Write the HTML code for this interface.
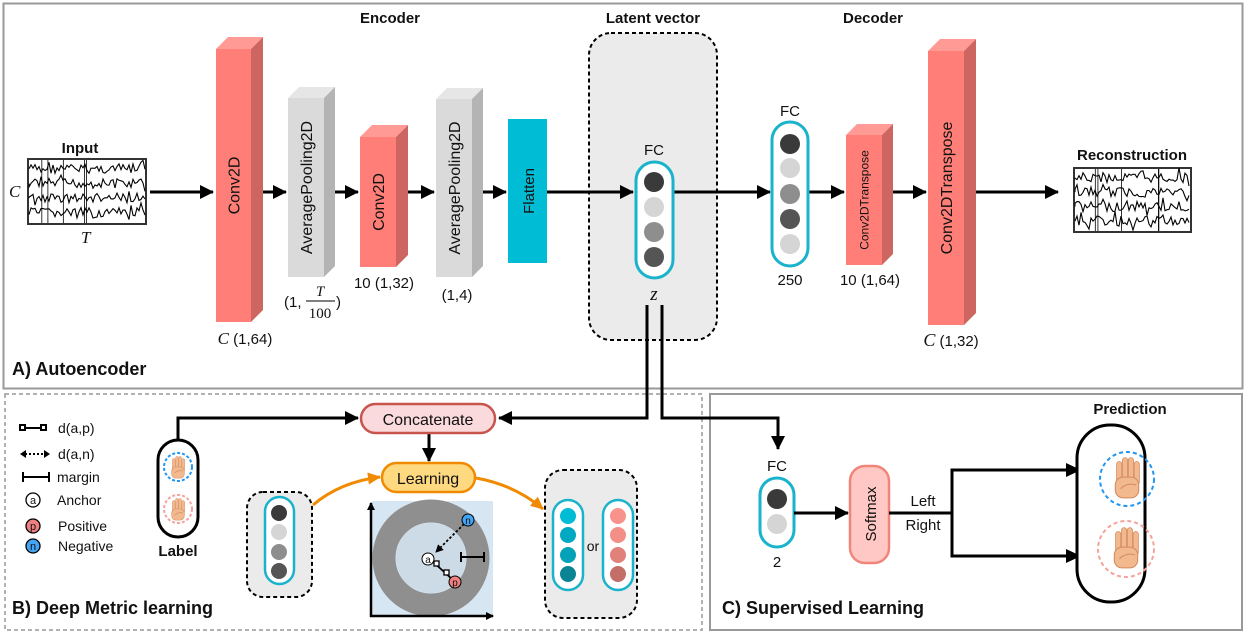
<!DOCTYPE html>
<html><head><meta charset="utf-8"><style>
html,body{margin:0;padding:0;background:#fff}
svg{display:block}
text{font-family:"Liberation Sans",sans-serif;fill:#111}
.b{font-weight:bold}
.s{font-family:"Liberation Serif",serif;font-style:italic}
</style></head><body>
<svg id="s" width="1246" height="633" viewBox="0 0 1246 633" xmlns="http://www.w3.org/2000/svg">
<defs>
<marker id="ah" markerWidth="8" markerHeight="8" refX="7" refY="4" orient="auto" markerUnits="userSpaceOnUse"><path d="M0,0 L8,4 L0,8 z" fill="#000"/></marker>
<marker id="ab" markerWidth="14" markerHeight="14" refX="13" refY="7" orient="auto" markerUnits="userSpaceOnUse"><path d="M0,0 L14,7 L0,14 z" fill="#000"/></marker>
<marker id="ao" markerWidth="14" markerHeight="14" refX="12" refY="7" orient="auto" markerUnits="userSpaceOnUse"><path d="M0,1 L13,7 L0,13 z" fill="#f08a00"/></marker>
</defs>
<rect x="3.5" y="3.5" width="1239" height="385" fill="none" stroke="#999" stroke-width="2"/>
<rect x="5" y="394" width="697" height="236" fill="none" stroke="#999" stroke-width="1.5" stroke-dasharray="4,3"/>
<rect x="710" y="394" width="532" height="236" fill="none" stroke="#999" stroke-width="2"/>

<text x="390" y="23" class="b" font-size="15" text-anchor="middle">Encoder</text>
<text x="653" y="23" class="b" font-size="15" text-anchor="middle">Latent vector</text>
<text x="873" y="23" class="b" font-size="15" text-anchor="middle">Decoder</text>
<text x="12" y="375" class="b" font-size="18">A) Autoencoder</text>
<text x="12" y="614" class="b" font-size="18">B) Deep Metric learning</text>
<text x="722" y="614" class="b" font-size="18">C) Supervised Learning</text>

<rect x="589" y="33" width="128" height="307" rx="22" fill="#ebebeb" stroke="#000" stroke-width="2" stroke-dasharray="4,3"/>

<text x="80" y="153" class="b" font-size="15" text-anchor="middle">Input</text>
<rect x="28" y="159" width="118" height="65" fill="#fff" stroke="#333" stroke-width="2"/>
<g id="w1"></g>
<text x="9" y="197" class="s" font-size="17">C</text>
<text x="81" y="243" class="s" font-size="17">T</text>
<rect x="1074" y="168" width="117" height="64" fill="#fff" stroke="#333" stroke-width="2"/>
<g id="w2"></g>
<text x="1132" y="160" class="b" font-size="15" text-anchor="middle">Reconstruction</text>

<g stroke="#000" stroke-width="3" fill="none">
<line x1="150" y1="192" x2="213" y2="192" marker-end="url(#ab)"/>
<line x1="263" y1="192" x2="286" y2="192" marker-end="url(#ab)"/>
<line x1="335" y1="192" x2="358" y2="192" marker-end="url(#ab)"/>
<line x1="408" y1="192" x2="434" y2="192" marker-end="url(#ab)"/>
<line x1="483" y1="192" x2="506" y2="192" marker-end="url(#ab)"/>
<line x1="547" y1="192" x2="633" y2="192" marker-end="url(#ab)"/>
<line x1="673" y1="192" x2="770" y2="192" marker-end="url(#ab)"/>
<line x1="808" y1="192" x2="844" y2="192" marker-end="url(#ab)"/>
<line x1="893" y1="192" x2="926" y2="192" marker-end="url(#ab)"/>
<line x1="975" y1="192" x2="1058" y2="192" marker-end="url(#ab)"/>
</g>

<g id="blocks"></g>
<rect x="508" y="119" width="39" height="144" fill="#00bcd4"/>
<text transform="translate(534,191) rotate(-90)" font-size="15" text-anchor="middle">Flatten</text>

<text x="245" y="344" font-size="15" text-anchor="middle"><tspan class="s" font-size="17">C</tspan> (1,64)</text>
<text x="284" y="307" font-size="15">(1,</text>
<text x="320" y="296" class="s" font-size="15" text-anchor="middle">T</text>
<line x1="306" y1="301" x2="335" y2="301" stroke="#000" stroke-width="1"/>
<text x="320" y="318" font-size="15" text-anchor="middle" style="font-family:'Liberation Serif',serif">100</text>
<text x="336" y="307" font-size="15">)</text>
<text x="384" y="288" font-size="15" text-anchor="middle">10 (1,32)</text>
<text x="457" y="300" font-size="15" text-anchor="middle">(1,4)</text>
<text x="870" y="285" font-size="15" text-anchor="middle">10 (1,64)</text>
<text x="951" y="346" font-size="15" text-anchor="middle"><tspan class="s" font-size="18">C</tspan> (1,32)</text>

<text x="654" y="155" font-size="15" text-anchor="middle">FC</text>
<rect x="636" y="162" width="37" height="116" rx="18.5" fill="#fff" stroke="#1ab3cc" stroke-width="3"/>
<circle cx="654" cy="182" r="10" fill="#3a3a3a"/><circle cx="654" cy="207" r="10" fill="#d5d5d5"/>
<circle cx="654" cy="232" r="10" fill="#8e8e8e"/><circle cx="654" cy="257" r="10" fill="#555"/>
<text x="654" y="300" class="s" font-size="19" text-anchor="middle">z</text>

<text x="790" y="116" font-size="15" text-anchor="middle">FC</text>
<rect x="772" y="122" width="36" height="144" rx="18" fill="#fff" stroke="#1ab3cc" stroke-width="3"/>
<circle cx="790" cy="144" r="10" fill="#3a3a3a"/><circle cx="790" cy="168" r="10" fill="#d5d5d5"/>
<circle cx="790" cy="194" r="10" fill="#8e8e8e"/><circle cx="790" cy="219" r="10" fill="#555"/>
<circle cx="790" cy="244" r="10" fill="#d5d5d5"/>
<text x="790" y="285" font-size="15" text-anchor="middle">250</text>

<g stroke="#000" stroke-width="3" fill="none">
<polyline points="647,305 647,418 499,418" marker-end="url(#ab)"/>
<polyline points="662,305 662,418 778,418 778,449" marker-end="url(#ab)"/>
<polyline points="178,440 178,418 358,418" marker-end="url(#ab)"/>
<line x1="429" y1="434" x2="429" y2="461" marker-end="url(#ab)"/>
</g>

<rect x="361" y="404" width="134" height="29" rx="14.5" fill="#fadadd" stroke="#c8554d" stroke-width="2.5"/>
<text x="428" y="425" font-size="16" text-anchor="middle">Concatenate</text>
<rect x="382" y="463" width="93" height="29" rx="14.5" fill="#ffd980" stroke="#f08a00" stroke-width="2.5"/>
<text x="428" y="484" font-size="16" text-anchor="middle">Learning</text>
<path d="M313,505 Q340,482 380,477" stroke="#f08a00" stroke-width="3" fill="none" marker-end="url(#ao)"/>
<path d="M476,478 Q515,485 543,509" stroke="#f08a00" stroke-width="3" fill="none" marker-end="url(#ao)"/>

<g stroke="#000" stroke-width="2" fill="#fff">
<rect x="20" y="425" width="5" height="5"/><line x1="25" y1="428" x2="41" y2="428"/><rect x="41" y="425" width="5" height="5"/>
<line x1="25" y1="454" x2="45" y2="454" stroke-dasharray="2,2"/>
<line x1="23" y1="477" x2="49" y2="477"/><line x1="23" y1="472" x2="23" y2="482"/><line x1="49" y1="472" x2="49" y2="482"/>
</g>
<path d="M20,454 l6,-4 v8 z M50,454 l-6,-4 v8 z" fill="#000"/>
<circle cx="33" cy="500" r="7" fill="#fff" stroke="#000" stroke-width="1.3"/><text x="33" y="504" font-size="11" text-anchor="middle">a</text>
<circle cx="33" cy="526" r="7" fill="#f08080" stroke="#000" stroke-width="1.3"/><text x="33" y="530" font-size="11" text-anchor="middle">p</text>
<circle cx="33" cy="546" r="7" fill="#42a5f5" stroke="#000" stroke-width="1.3"/><text x="33" y="550" font-size="11" text-anchor="middle">n</text>
<g font-size="14">
<text x="58" y="433">d(a,p)</text><text x="58" y="459">d(a,n)</text><text x="57" y="482">margin</text>
<text x="57" y="505">Anchor</text><text x="58" y="531">Positive</text><text x="58" y="551">Negative</text>
</g>

<rect x="158" y="440" width="40" height="97" rx="20" fill="#fff" stroke="#000" stroke-width="3"/>
<circle cx="178" cy="467" r="14" fill="none" stroke="#2196f3" stroke-width="2" stroke-dasharray="3,2"/>
<circle cx="178" cy="509" r="14" fill="none" stroke="#f4a39a" stroke-width="2" stroke-dasharray="3,2"/>
<text x="178" y="556" class="b" font-size="15" text-anchor="middle">Label</text>

<rect x="247" y="492" width="65" height="105" rx="16" fill="#ebebeb" stroke="#000" stroke-width="2" stroke-dasharray="4,3"/>
<rect x="265" y="497" width="29" height="87" rx="14.5" fill="#fff" stroke="#1ab3cc" stroke-width="2.5"/>
<circle cx="279" cy="513" r="8" fill="#3a3a3a"/><circle cx="279" cy="532" r="8" fill="#d5d5d5"/>
<circle cx="279" cy="552" r="8" fill="#8e8e8e"/><circle cx="279" cy="571" r="8" fill="#555"/>

<rect x="372" y="501" width="121" height="115" fill="#d6e6f2"/>
<circle cx="431" cy="558" r="47" fill="none" stroke="#8f8f8f" stroke-width="23"/>
<circle cx="431" cy="558" r="35" fill="#cddbe6"/>
<g stroke="#000" stroke-width="2.5" fill="none">
<line x1="371" y1="617" x2="371" y2="503" marker-end="url(#ah)"/>
<line x1="370" y1="616" x2="493" y2="616" marker-end="url(#ah)"/>
</g>
<line x1="464" y1="524" x2="436" y2="552" stroke="#000" stroke-width="1.8" stroke-dasharray="2.5,2" marker-end="url(#ah)"/>
<line x1="431" y1="560" x2="453" y2="580" stroke="#000" stroke-width="1.8"/>
<rect x="434" y="561" width="5" height="5" fill="#fff" stroke="#000" stroke-width="1.3"/>
<rect x="444" y="570" width="5" height="5" fill="#fff" stroke="#000" stroke-width="1.3"/>
<g stroke="#000" stroke-width="2"><line x1="461" y1="557" x2="484" y2="557"/><line x1="461" y1="552" x2="461" y2="562"/><line x1="484" y1="552" x2="484" y2="562"/></g>
<circle cx="428" cy="559" r="6" fill="#fff" stroke="#000"/><text x="428" y="563" font-size="10" text-anchor="middle">a</text>
<circle cx="455" cy="582" r="6" fill="#f08080" stroke="#000"/><text x="455" y="586" font-size="10" text-anchor="middle">p</text>
<circle cx="468" cy="520" r="6" fill="#42a5f5" stroke="#000"/><text x="468" y="524" font-size="10" text-anchor="middle">n</text>

<rect x="545" y="470" width="92" height="148" rx="18" fill="#ebebeb" stroke="#000" stroke-width="2" stroke-dasharray="4,3"/>
<rect x="553" y="500" width="30" height="90" rx="15" fill="#fff" stroke="#1ab3cc" stroke-width="2.5"/>
<rect x="603" y="500" width="30" height="90" rx="15" fill="#fff" stroke="#1ab3cc" stroke-width="2.5"/>
<circle cx="568" cy="516" r="8" fill="#00bcd4"/><circle cx="568" cy="535" r="8" fill="#00a8c2"/>
<circle cx="568" cy="555" r="8" fill="#03a2b8"/><circle cx="568" cy="574" r="8" fill="#0a8494"/>
<circle cx="618" cy="516" r="8" fill="#f7938a"/><circle cx="618" cy="535" r="8" fill="#f48f87"/>
<circle cx="618" cy="555" r="8" fill="#e0827a"/><circle cx="618" cy="574" r="8" fill="#c46e68"/>
<text x="593" y="551" font-size="14" text-anchor="middle">or</text>

<text x="777" y="471" font-size="15" text-anchor="middle">FC</text>
<rect x="760" y="478" width="34" height="69" rx="17" fill="#fff" stroke="#1ab3cc" stroke-width="3"/>
<circle cx="777" cy="499" r="10" fill="#3a3a3a"/><circle cx="777" cy="524" r="10" fill="#d5d5d5"/>
<text x="777" y="567" font-size="15" text-anchor="middle">2</text>
<rect x="850" y="466" width="39" height="97" rx="15" fill="#ffc8c4" stroke="#f0857a" stroke-width="2.5"/>
<text transform="translate(876,514) rotate(-90)" font-size="15" text-anchor="middle">Softmax</text>
<g stroke="#000" stroke-width="3" fill="none">
<line x1="794" y1="513" x2="848" y2="513" marker-end="url(#ab)"/>
<line x1="889" y1="513" x2="952" y2="513"/>
<polyline points="1066,470 952,470 952,556 1066,556"/>
</g>
<path d="M1066,463 L1081,470 L1066,477 z M1066,549 L1081,556 L1066,563 z" fill="#000"/>
<text x="923" y="506" font-size="15" text-anchor="middle">Left</text>
<text x="923" y="530" font-size="15" text-anchor="middle">Right</text>
<text x="1130" y="414" class="b" font-size="15" text-anchor="middle">Prediction</text>
<rect x="1077" y="425" width="68" height="177" rx="33" fill="#fff" stroke="#000" stroke-width="3"/>
<circle cx="1127" cy="479" r="27" fill="none" stroke="#2196f3" stroke-width="2" stroke-dasharray="4,3"/>
<circle cx="1126" cy="549" r="28" fill="none" stroke="#f4a39a" stroke-width="2" stroke-dasharray="4,3"/>
</svg>
<script>
(function(){
var NS="http://www.w3.org/2000/svg",s=document.getElementById("s");
function el(p,t,a){var e=document.createElementNS(NS,t);for(var k in a)e.setAttribute(k,a[k]);p.appendChild(e);return e;}
var seed=7;function r(){seed=(seed*9301+49297)%233280;return seed/233280;}
function waves(g,x0,y0,w,h){g=document.getElementById(g);
 for(var i=0;i<4;i++){var y=y0+h*(i+0.6)/4.3,d="M"+x0+","+y;
  for(var x=x0;x<=x0+w;x+=2){var a=(r()-0.5)*10;if(r()<0.12)a*=2;d+=" L"+x.toFixed(1)+","+(y+a).toFixed(1);}
  el(g,"path",{d:d,stroke:"#000","stroke-width":"1.1",fill:"none"});}
 for(var j=0;j<5;j++){var xx=x0+10+r()*(w-20);el(g,"line",{x1:xx,y1:y0,x2:xx,y2:y0+h,stroke:"#000","stroke-width":"0.8"});}
}
waves("w1",29,160,116,63);waves("w2",1075,169,115,62);
var b=document.getElementById("blocks");
function blk(x,y,w,h,d,f,side,top,txt,fs){
 el(b,"polygon",{points:[x,y,x+d,y-d,x+w+d,y-d,x+w,y].join(","),fill:top});
 el(b,"polygon",{points:[x+w,y,x+w+d,y-d,x+w+d,y+h-d,x+w,y+h].join(","),fill:side});
 el(b,"rect",{x:x,y:y,width:w,height:h,fill:f});
 var t=el(b,"text",{transform:"translate("+(x+w/2+fs*0.36)+","+(y+h/2)+") rotate(-90)","font-size":fs,"text-anchor":"middle"});t.textContent=txt;}
var R="#ff7f78",RS="#cd6560",RT="#ff9a94",G="#dadada",GS="#b4b4b4",GT="#e6e6e6";
blk(216,49,35,273,12,R,RS,RT,"Conv2D",16);
blk(288,98,36,179,11,G,GS,GT,"AveragePooling2D",16);
blk(360,137,36,130,12,R,RS,RT,"Conv2D",16);
blk(436,99,36,178,11,G,GS,GT,"AveragePooling2D",16);
blk(846,135,36,130,11,R,RS,RT,"Conv2DTranspose",12);
blk(928,51,36,274,12,R,RS,RT,"Conv2DTranspose",16);
function hand(cx,cy,sc){var g=el(s,"g",{transform:"translate("+cx+","+cy+") scale("+sc+")"});
 [[-8,-15],[-3.5,-18],[1,-18],[5.5,-15]].forEach(function(p){el(g,"rect",{x:p[0],y:p[1],width:4,height:18,rx:2,fill:"#f2b98f",stroke:"#d38a5e","stroke-width":"0.6"});});
 el(g,"rect",{x:-9,y:-3,width:18,height:16,rx:6,fill:"#f2b98f",stroke:"#d38a5e","stroke-width":"0.8"});
 el(g,"path",{d:"M-5,6 Q0,1 7,3",stroke:"#d38a5e","stroke-width":"0.8",fill:"none"});}
hand(178,469,0.7);hand(178,511,0.7);hand(1127,481,1.3);hand(1126,551,1.3);
})();
</script>
</body></html>
